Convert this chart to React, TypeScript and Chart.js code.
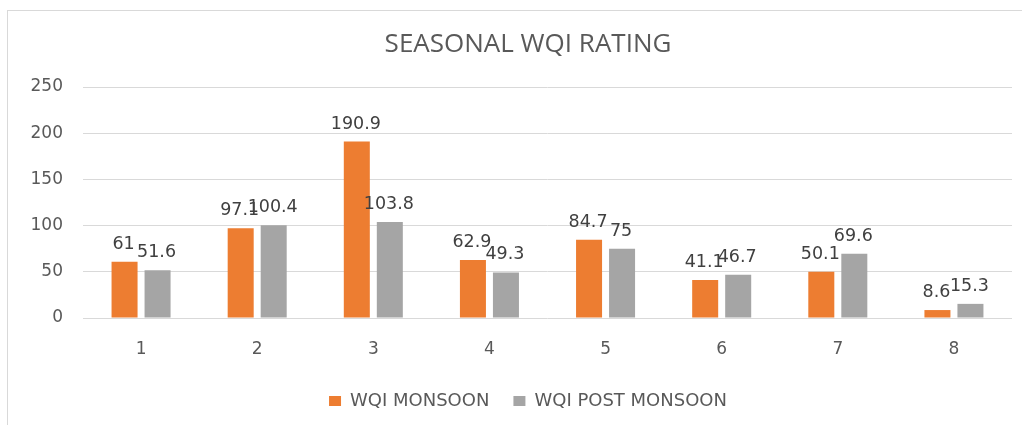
import React, { useEffect, useRef } from "react";
import { Chart, registerables } from "chart.js";

Chart.register(...registerables);

const categories = ["1", "2", "3", "4", "5", "6", "7", "8"];
const wqiMonsoon = [61, 97.1, 190.9, 62.9, 84.7, 41.1, 50.1, 8.6];
const wqiPostMonsoon = [51.6, 100.4, 103.8, 49.3, 75, 46.7, 69.6, 15.3];
const seriesNames = ["WQI MONSOON", "WQI POST MONSOON"];
const chartTitle = "SEASONAL WQI RATING";
const yMin = 0;
const yMax = 250;
const yStep = 50;

const FONT = "'DejaVu Sans', Verdana, sans-serif";

const dataLabelPlugin = {
  id: "dataLabels",
  afterLayout(chart: any) {
    // let the y tick labels draw outside the narrow axis box without clipping
    if (chart.scales.y) chart.scales.y.left = 0;
  },
  afterDatasetsDraw(chart: any) {
    const ctx = chart.ctx;
    ctx.save();
    ctx.font = `17.5px ${FONT}`;
    ctx.fillStyle = "#404040";
    ctx.textAlign = "center";
    ctx.textBaseline = "alphabetic";
    chart.data.datasets.forEach((ds: any, di: number) => {
      const meta = chart.getDatasetMeta(di);
      meta.data.forEach((bar: any, i: number) => {
        const v = ds.data[i];
        ctx.fillText(String(v), bar.x - 1, bar.y - 13);
      });
    });
    ctx.restore();
  },
};

export default function App() {
  const ref = useRef<HTMLCanvasElement>(null);
  useEffect(() => {
    if (!ref.current) return;
    const chart = new Chart(ref.current, {
      type: "bar",
      data: {
        labels: categories,
        datasets: [
          {
            label: seriesNames[0],
            data: wqiMonsoon,
            backgroundColor: "#ED7D31",
            categoryPercentage: 0.5685,
            barPercentage: 0.788,
          },
          {
            label: seriesNames[1],
            data: wqiPostMonsoon,
            backgroundColor: "#A5A5A5",
            categoryPercentage: 0.5685,
            barPercentage: 0.788,
          },
        ],
      },
      options: {
        animation: false,
        responsive: false,
        maintainAspectRatio: false,
        layout: { padding: { left: 44, right: 10, top: 0, bottom: 5 } },
        plugins: {
          tooltip: { enabled: false },
          title: {
            display: true,
            text: chartTitle,
            color: "#595959",
            font: { family: "'Open Sans', sans-serif", size: 26, weight: "normal" },
            padding: { top: 28.9, bottom: 26.9 },
          },
          legend: {
            display: true,
            position: "bottom",
            labels: {
              color: "#595959",
              font: { family: FONT, size: 18 },
              boxWidth: 12,
              boxHeight: 10,
              padding: 24,
            },
          },
        },
        scales: {
          x: {
            grid: { display: false, drawTicks: false },
            border: { display: false },
            ticks: { color: "#595959", font: { family: FONT, size: 17 }, padding: 21 },
            afterFit(scale: any) {
              scale.height = 50;
            },
          },
          y: {
            min: yMin,
            max: yMax,
            grid: { color: "#D9D9D9", lineWidth: 1, drawTicks: false },
            border: { display: false },
            ticks: {
              stepSize: yStep,
              color: "#595959",
              font: { family: FONT, size: 17 },
              padding: 20,
            },
            afterFit(scale: any) {
              scale.width = 39;
            },
          },
        },
      },
      plugins: [dataLabelPlugin],
    });
    return () => chart.destroy();
  }, []);

  return (
    <div
      style={{
        position: "absolute",
        left: 0,
        top: 0,
        width: 1022,
        height: 425,
        overflow: "hidden",
        background: "#ffffff",
      }}
    >
      <div
        style={{
          position: "absolute",
          left: 7,
          top: 10,
          width: 1100,
          height: 500,
          borderLeft: "1px solid #D9D9D9",
          borderTop: "1px solid #D9D9D9",
        }}
      />
      <canvas
        ref={ref}
        width={1022}
        height={425}
        style={{ position: "absolute", left: 0, top: 0, width: 1022, height: 425 }}
      />
    </div>
  );
}
